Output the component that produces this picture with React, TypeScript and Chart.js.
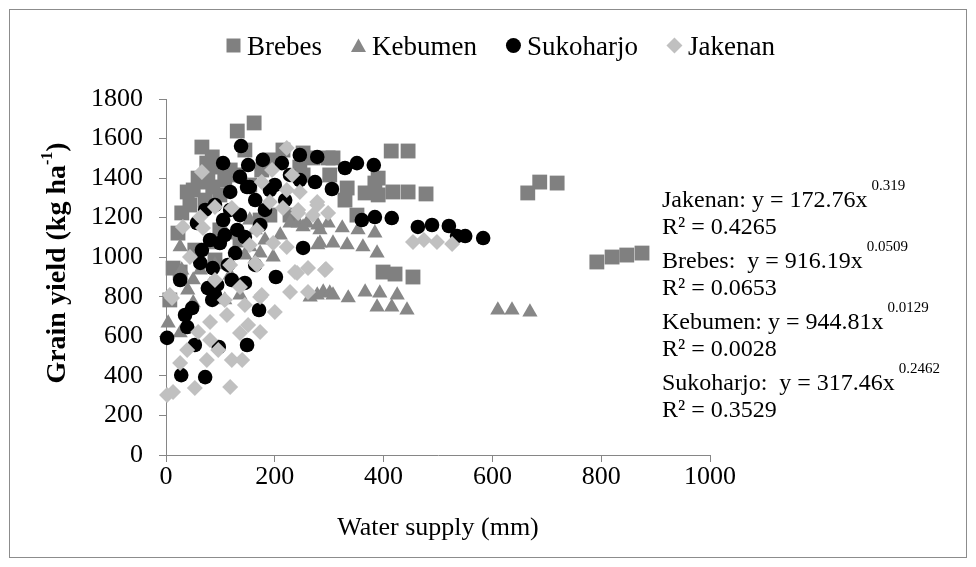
import React, { useEffect, useRef } from 'react';
import { Chart, registerables } from 'chart.js';

Chart.register(...registerables);

const SERIF = "'Liberation Serif', 'Times New Roman', serif";

const seriesNames = ['Brebes', 'Kebumen', 'Sukoharjo', 'Jakenan'];
const seriesColors = ['#808080', '#878787', '#000000', '#c0c0c0'];
const seriesStyles = ['rect', 'triangle', 'circle', 'rectRot'];

const xTicks = [0, 200, 400, 600, 800, 1000];
const yTicks = [0, 200, 400, 600, 800, 1000, 1200, 1400, 1600, 1800];

const brebesX = [131, 162, 66, 85, 75, 59, 63, 39, 29, 22, 13, 7, 26, 77, 94, 50, 86, 44, 72, 99, 108, 118, 145, 127, 154, 176, 191, 215, 246, 252, 270, 252, 298, 99, 53, 90, 136, 173, 191, 228, 307, 333, 366, 390, 390, 417, 445, 478, 414, 445, 351, 399, 421, 454, 301, 329, 384, 665, 687, 719, 792, 820, 847, 875];
const brebesY = [1638, 1679, 1557, 1507, 1476, 1400, 1380, 1330, 1224, 1122, 945, 784, 925, 1406, 1456, 1340, 1355, 1264, 1289, 1315, 1390, 1441, 1542, 1416, 1365, 1441, 1492, 1542, 1456, 1416, 1502, 1527, 1502, 1138, 1036, 986, 1087, 1188, 1213, 1213, 1502, 1350, 1325, 1400, 1315, 1330, 1330, 1320, 1537, 1537, 1213, 925, 915, 900, 1416, 1289, 1375, 1325, 1380, 1375, 976, 1001, 1011, 1021];

const kebumenX = [4, 26, 50, 29, 26, 50, 40, 63, 81, 90, 108, 118, 136, 145, 154, 173, 197, 182, 210, 228, 243, 259, 279, 298, 252, 283, 324, 353, 384, 283, 307, 279, 333, 362, 388, 265, 278, 289, 301, 307, 335, 366, 393, 425, 388, 415, 443, 610, 636, 669, 90, 127, 164, 154];
const kebumenY = [667, 617, 769, 935, 1052, 885, 834, 935, 860, 961, 784, 910, 809, 1011, 1052, 1021, 1001, 1087, 1112, 1173, 1173, 1173, 1163, 1173, 1153, 1138, 1148, 1138, 1122, 1072, 1072, 1062, 1062, 1052, 1021, 799, 809, 824, 819, 809, 794, 824, 819, 809, 748, 748, 733, 733, 733, 723, 1062, 1112, 1138, 1188];

const sukoharjoX = [138, 105, 151, 136, 118, 149, 246, 278, 178, 213, 274, 305, 154, 246, 329, 351, 382, 360, 384, 415, 463, 489, 520, 535, 550, 583, 252, 57, 105, 131, 145, 66, 99, 127, 63, 86, 114, 26, 77, 90, 145, 48, 94, 85, 35, 39, 2, 53, 97, 149, 171, 202, 28, 72, 90, 118, 164, 182, 191, 219, 228, 173, 200, 81, 108, 72, 136, 164, 121];
const sukoharjoY = [1562, 1476, 1466, 1406, 1330, 1355, 1517, 1507, 1492, 1476, 1380, 1345, 1355, 1390, 1451, 1476, 1466, 1188, 1203, 1198, 1153, 1163, 1158, 1107, 1107, 1097, 1047, 1173, 1188, 1138, 1102, 1036, 1072, 1021, 971, 945, 961, 885, 844, 809, 870, 743, 860, 784, 708, 647, 592, 556, 546, 556, 733, 900, 404, 394, 1264, 1239, 1289, 1239, 1340, 1289, 1416, 1163, 1365, 1087, 1112, 1239, 1213, 961, 885];

const jakenanX = [66, 90, 121, 63, 222, 195, 232, 176, 222, 246, 191, 215, 243, 278, 298, 454, 474, 498, 526, 261, 292, 261, 278, 44, 167, 11, 136, 173, 200, 173, 241, 228, 112, 81, 59, 39, 26, 13, 2, 53, 118, 121, 140, 75, 96, 81, 136, 151, 167, 197, 222, 164, 237, 294, 176, 243, 270, 31, 68, 7, 108, 145, 90, 118, 154];
const jakenanY = [1431, 1254, 1249, 1203, 1552, 1441, 1416, 1380, 1340, 1330, 1279, 1249, 1239, 1264, 1224, 1077, 1087, 1077, 1067, 945, 935, 824, 1279, 1001, 961, 794, 849, 799, 723, 622, 920, 824, 708, 672, 622, 531, 465, 319, 303, 339, 344, 480, 480, 480, 531, 581, 617, 657, 1138, 1072, 1052, 971, 925, 940, 809, 1224, 1213, 1153, 1148, 809, 784, 758, 885, 961, 1062];

const eqTexts = ['Jakenan: y = 172.76x', 'Brebes:  y = 916.19x', 'Kebumen: y = 944.81x', 'Sukoharjo:  y = 317.46x'];
const eqExponents = ['0.319', '0.0509', '0.0129', '0.2462'];
const eqR2 = ['R² = 0.4265', 'R² = 0.0653', 'R² = 0.0028', 'R² = 0.3529'];

const xTitle = 'Water supply (mm)';
const yTitleMain = 'Grain yield (kg ha';
const yTitleSup = '-1';
const yTitleEnd = ')';

const pointRadii = [10.5, 8.8, 7.3, 8];

function toPoints(xs: number[], ys: number[]) {
  return xs.map((x, i) => ({ x, y: ys[i] }));
}

function drawMarker(ctx: CanvasRenderingContext2D, style: string, cx: number, cy: number, color: string) {
  ctx.fillStyle = color;
  ctx.beginPath();
  if (style === 'rect') {
    ctx.rect(cx - 7, cy - 7, 14, 14);
  } else if (style === 'triangle') {
    ctx.moveTo(cx, cy - 7);
    ctx.lineTo(cx + 7.5, cy + 6.5);
    ctx.lineTo(cx - 7.5, cy + 6.5);
    ctx.closePath();
  } else if (style === 'circle') {
    ctx.arc(cx, cy, 7.5, 0, Math.PI * 2);
  } else {
    ctx.moveTo(cx, cy - 8);
    ctx.lineTo(cx + 8, cy);
    ctx.lineTo(cx, cy + 8);
    ctx.lineTo(cx - 8, cy);
    ctx.closePath();
  }
  ctx.fill();
}

const decorPlugin = {
  id: 'decor',
  afterDraw(chart: any) {
    const ctx: CanvasRenderingContext2D = chart.ctx;
    ctx.save();
    // outer border
    ctx.strokeStyle = '#8c8c8c';
    ctx.lineWidth = 1;
    ctx.strokeRect(1.5, 1.5, chart.width - 3, chart.height - 3);

    // legend
    ctx.font = `27px ${SERIF}`;
    ctx.textBaseline = 'alphabetic';
    ctx.textAlign = 'left';
    let left = 218;
    const cy = 37.5;
    chart.data.datasets.forEach((ds: any) => {
      drawMarker(ctx, ds.pointStyle, left + 7.5, cy, ds.backgroundColor);
      ctx.fillStyle = '#000';
      ctx.fillText(ds.label, left + 21, 47);
      left = left + 21 + ctx.measureText(ds.label).width + 29;
    });

    // y title (rotated, bold, with superscript)
    ctx.save();
    ctx.translate(50, 255);
    ctx.rotate(-Math.PI / 2);
    const bold = `bold 28px ${SERIF}`;
    const supFont = `bold 16px ${SERIF}`;
    ctx.font = bold;
    const w1 = ctx.measureText(yTitleMain).width;
    const w3 = ctx.measureText(yTitleEnd).width;
    ctx.font = supFont;
    const w2 = ctx.measureText(yTitleSup).width;
    const total = w1 + w2 + w3;
    let tx = -total / 2;
    ctx.fillStyle = '#000';
    ctx.textBaseline = 'middle';
    ctx.font = bold;
    ctx.fillText(yTitleMain, tx, 0);
    tx += w1;
    ctx.font = supFont;
    ctx.fillText(yTitleSup, tx, -10);
    tx += w2;
    ctx.font = bold;
    ctx.fillText(yTitleEnd, tx, 0);
    ctx.restore();

    // regression annotations
    ctx.fillStyle = '#000';
    ctx.textBaseline = 'alphabetic';
    const ax = 654;
    eqTexts.forEach((t, i) => {
      const base = 199 + i * 61;
      ctx.font = `24px ${SERIF}`;
      ctx.fillText(t, ax, base);
      const w = ctx.measureText(t).width;
      ctx.font = `15px ${SERIF}`;
      ctx.fillText(eqExponents[i], ax + w + 4, base - 17);
      ctx.font = `24px ${SERIF}`;
      ctx.fillText(eqR2[i], ax, base + 27);
    });
    ctx.restore();
  },
};

export default function App() {
  const ref = useRef<HTMLCanvasElement>(null);
  useEffect(() => {
    const seriesData = [
      toPoints(brebesX, brebesY),
      toPoints(kebumenX, kebumenY),
      toPoints(sukoharjoX, sukoharjoY),
      toPoints(jakenanX, jakenanY),
    ];
    const datasets = seriesNames.map((name, i) => ({
      label: name,
      data: seriesData[i],
      pointStyle: seriesStyles[i],
      backgroundColor: seriesColors[i],
      borderColor: seriesColors[i],
      pointBackgroundColor: seriesColors[i],
      pointBorderColor: seriesColors[i],
      pointBorderWidth: 0,
      pointRadius: pointRadii[i],
      pointHoverRadius: pointRadii[i],
      order: 3 - i,
      clip: false as any,
    }));
    const tickFont = { family: SERIF, size: 26 };
    const chart = new Chart(ref.current as HTMLCanvasElement, {
      type: 'scatter',
      data: { datasets },
      options: {
        responsive: false,
        animation: false,
        events: [],
        layout: { padding: { top: 91, right: 258, bottom: 0, left: 0 } },
        plugins: { legend: { display: false }, tooltip: { enabled: false }, title: { display: false } },
        scales: {
          x: {
            type: 'linear',
            min: xTicks[0],
            max: xTicks[xTicks.length - 1],
            afterBuildTicks: (s: any) => { s.ticks = xTicks.map((v) => ({ value: v })); },
            ticks: { font: tickFont, color: '#000', padding: 0, maxRotation: 0, autoSkip: false, callback: (v: any) => String(v) },
            grid: { display: true, drawOnChartArea: false, drawTicks: true, tickLength: 7, color: '#868686' },
            border: { display: true, color: '#868686' },
            title: { display: true, text: xTitle, font: { family: SERIF, size: 26 }, color: '#000', padding: { top: 0, bottom: 15 } },
            afterFit: (s: any) => { s.height = 104; },
          },
          y: {
            type: 'linear',
            min: yTicks[0],
            max: yTicks[yTicks.length - 1],
            afterBuildTicks: (s: any) => { s.ticks = yTicks.map((v) => ({ value: v })); },
            ticks: { font: tickFont, color: '#000', padding: 16, autoSkip: false, callback: (v: any) => String(v) },
            grid: { display: true, drawOnChartArea: false, drawTicks: true, tickLength: 7, color: '#868686' },
            border: { display: true, color: '#868686' },
            afterFit: (s: any) => { s.width = 158; },
          },
        },
      },
      plugins: [decorPlugin],
    } as any);
    return () => chart.destroy();
  }, []);
  return <canvas ref={ref} width={960} height={551} style={{ display: 'block' }} />;
}
